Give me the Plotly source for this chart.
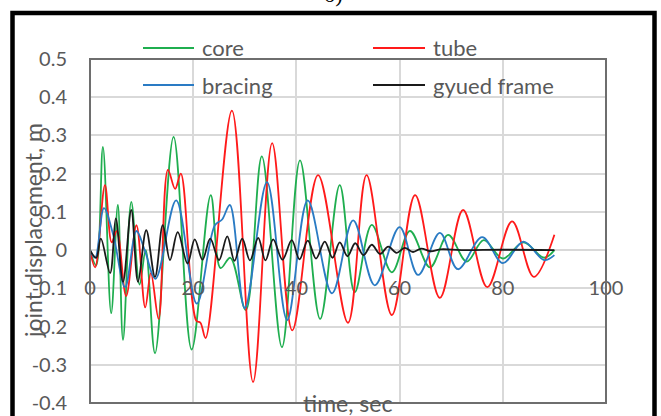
import plotly.graph_objects as go

# ---------------- data ----------------
series_names = ["core", "tube", "bracing", "gyued frame"]

t_core = [0, 1.2, 2.5, 4.1, 5.4, 6.4, 8.0, 9.6, 10.8, 12.6, 16.2, 19.7, 23.4, 25.3, 27.2,
          30.2, 33.3, 37.2, 40.7, 44.6, 48.4, 51.3, 54.6, 58.5, 62.0, 65.9, 69.4, 73.0,
          76.3, 80.0, 84.0, 88.0, 90.0]
d_core = [0.0, -0.04, 0.27, -0.165, 0.118, -0.235, 0.126, -0.09, 0.0, -0.27, 0.296, -0.26,
          0.144, -0.047, -0.02, -0.157, 0.245, -0.254, 0.235, -0.18, 0.17, -0.11, 0.066,
          -0.058, 0.05, -0.045, 0.04, -0.03, 0.026, -0.022, 0.02, -0.02, 0.0]

t_tube = [0, 1.0, 2.9, 4.2, 5.2, 7.0, 9.0, 10.7, 11.8, 13.3, 15.1, 16.5, 17.6, 20.6, 21.4,
          22.4, 27.5, 31.6, 35.3, 39.2, 44.2, 50.0, 53.6, 58.5, 63.0, 67.8, 72.3, 77.0,
          81.8, 86.0, 90.0]
d_tube = [0.0, -0.045, 0.17, 0.02, 0.05, -0.12, 0.065, -0.15, -0.06, -0.18, 0.21, 0.16, 0.2,
          -0.185, -0.19, -0.23, 0.365, -0.345, 0.28, -0.21, 0.196, -0.19, 0.196, -0.17,
          0.144, -0.125, 0.105, -0.097, 0.075, -0.07, 0.04]

t_bracing = [0, 1.0, 2.7, 4.5, 6.8, 9.0, 10.6, 12.7, 16.7, 20.7, 24.2, 25.6, 27.1, 30.0,
             34.3, 38.2, 42.2, 46.9, 51.0, 55.2, 60.0, 63.6, 67.8, 71.3, 76.0, 80.0, 84.0,
             88.0, 90.0]
d_bracing = [0.0, -0.02, 0.11, 0.04, -0.097, 0.05, 0.0, -0.075, 0.13, -0.14, 0.065, 0.08,
             0.118, -0.152, 0.178, -0.183, 0.13, -0.113, 0.078, -0.092, 0.06, -0.065, 0.045,
             -0.05, 0.034, -0.034, 0.022, -0.026, -0.013]

t_frame = [0, 1.2, 2.1, 3.9, 5.0, 6.4, 8.0, 9.3, 10.9, 12.6, 14.1, 15.5, 17.0, 18.9, 20.3,
           21.8, 23.3, 25.0, 26.6, 28.0, 29.5, 31.0, 32.6, 34.0, 35.5, 37.3, 39.1, 40.6,
           42.2, 43.8, 45.5, 47.0, 48.4, 49.9, 51.4, 53.0, 54.6, 56.2, 57.8, 59.4, 61.0,
           62.6, 64.2, 66.0, 68.0, 72.0, 80.0, 90.0]
d_frame = [0.0, -0.02, 0.03, -0.06, 0.083, -0.083, 0.105, -0.083, 0.052, -0.07, 0.065,
           -0.026, 0.047, -0.035, 0.028, -0.025, 0.03, -0.026, 0.036, -0.028, 0.03, -0.027,
           0.032, -0.027, 0.028, -0.025, 0.026, -0.024, 0.025, -0.022, 0.022, -0.02, 0.02,
           -0.016, 0.018, -0.013, 0.014, -0.01, 0.009, -0.007, 0.006, -0.005, 0.004, -0.003,
           0.002, 0.0, 0.001, 0.0]

x_ticks = [0, 20, 40, 60, 80, 100]
x_tick_labels = ["0", "20", "40", "60", "80", "100"]
y_ticks = [0.5, 0.4, 0.3, 0.2, 0.1, 0.0, -0.1, -0.2, -0.3, -0.4]
y_tick_labels = ["0.5", "0.4", "0.3", "0.2", "0.1", "0", "-0.1", "-0.2", "-0.3", "-0.4"]

x_title = "time, sec"
y_title = "joint displacement, m"
panel_label = "б)"

# ---------------- styling / layout ----------------
colors = ["#1fae4f", "#ff1a1a", "#2a7bc4", "#1a1a1a"]
FONT = "Lato"
TXT = "#595959"
W, H = 661, 416
L, R, T, B = 90, 55, 59, 13
PW, PH = W - L - R, H - T - B


def px_x(px):
    return (px - L) / PW


def px_y(py):
    return (H - B - py) / PH


fig = go.Figure()
for name, tx, dy, col in zip(series_names,
                             [t_core, t_tube, t_bracing, t_frame],
                             [d_core, d_tube, d_bracing, d_frame], colors):
    fig.add_trace(go.Scatter(x=tx, y=dy, name=name, mode="lines",
                             line=dict(color=col, width=1.8, shape="spline", smoothing=1.0),
                             showlegend=False))

ymin, ymax = -0.4, 0.5
zero_frac = (0 - ymin) / (ymax - ymin)

fig.update_xaxes(range=[0, 100], tickvals=x_ticks, ticktext=x_tick_labels,
                 showgrid=True, gridcolor="#d9d9d9", gridwidth=1.5,
                 zeroline=False, showline=False, ticks="",
                 anchor="free", position=zero_frac, side="bottom",
                 ticklabelstandoff=24,
                 tickfont=dict(family=FONT, size=20, color=TXT))
fig.update_yaxes(range=[ymin, ymax], tickvals=y_ticks, ticktext=y_tick_labels,
                 showgrid=True, gridcolor="#d9d9d9", gridwidth=1.5,
                 zeroline=False, showline=False, ticks="",
                 ticklabelstandoff=22,
                 tickfont=dict(family=FONT, size=20, color=TXT))

shapes = [
    # plot-area frame
    dict(type="rect", xref="paper", yref="paper", x0=0, x1=1, y0=0, y1=1,
         line=dict(color="#6e6e6e", width=2), layer="above"),
    # outer black border of the figure
    dict(type="rect", xref="paper", yref="paper", x0=px_x(12.5), x1=px_x(654.5),
         y0=px_y(430), y1=px_y(13), line=dict(color="black", width=4.5), layer="above"),
]

annotations = []
legend_pos = [(143, 194, 48, 200), (373, 425, 48, 431), (143, 194, 85, 200), (373, 425, 85, 431)]
for name, col, (lx0, lx1, ly, tx) in zip(series_names, colors, legend_pos):
    shapes.append(dict(type="line", xref="paper", yref="paper",
                       x0=px_x(lx0), x1=px_x(lx1), y0=px_y(ly), y1=px_y(ly),
                       line=dict(color=col, width=2)))
    annotations.append(dict(text=name, xref="paper", yref="paper", x=px_x(tx), y=px_y(ly),
                            xanchor="left", yanchor="middle", showarrow=False,
                            font=dict(family=FONT, size=22, color=TXT)))

annotations.append(dict(text=y_title, xref="paper", yref="paper", x=px_x(33), y=px_y(231),
                        xanchor="center", yanchor="middle", textangle=-90, showarrow=False,
                        font=dict(family=FONT, size=23, color=TXT)))
annotations.append(dict(text=x_title, xref="paper", yref="paper", x=px_x(347), y=px_y(403),
                        xanchor="center", yanchor="middle", showarrow=False,
                        font=dict(family=FONT, size=23, color=TXT)))
annotations.append(dict(text=panel_label, xref="paper", yref="paper", x=px_x(333), y=px_y(9),
                        xanchor="center", yanchor="bottom", showarrow=False,
                        font=dict(family="Liberation Serif", size=22, color="black")))

fig.update_layout(width=W, height=H, margin=dict(l=L, r=R, t=T, b=B, autoexpand=False),
                  paper_bgcolor="white", plot_bgcolor="white",
                  shapes=shapes, annotations=annotations)

fig.write_html("out.html")
